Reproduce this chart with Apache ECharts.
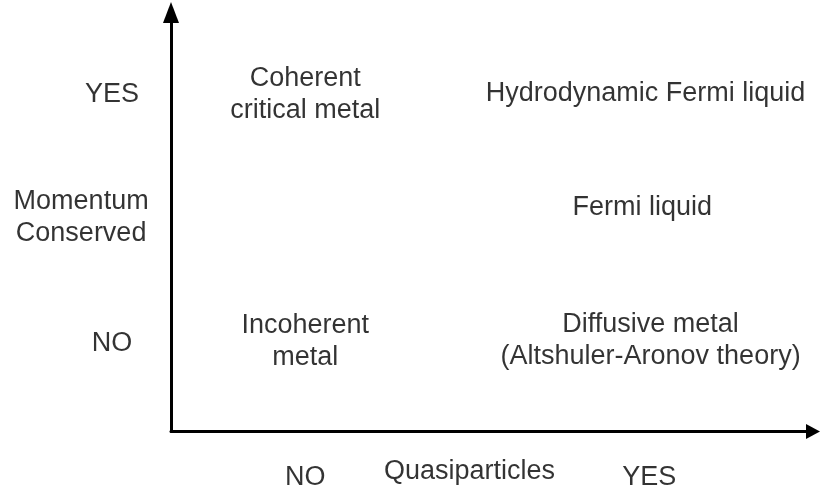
<!DOCTYPE html>
<html>
<head>
<meta charset="utf-8">
<style>
  html, body { margin: 0; padding: 0; background: #fff; }
  #chart { width: 820px; height: 490px; }
</style>
<script src="https://cdn.jsdelivr.net/npm/echarts@6/dist/echarts.min.js"></script>
</head>
<body>
<div id="chart"></div>
<script>
// Regime names (quadrant labels) and where they sit in the (quasiparticles, momentum) plane, 0..100
const regimeNames = ['Coherent\ncritical metal', 'Hydrodynamic Fermi liquid', 'Fermi liquid', 'Incoherent\nmetal', 'Diffusive metal\n(Altshuler-Aronov theory)'];
const regimeX = [20.9, 73.9, 73.4, 20.9, 74.7];
const regimeY = [80.5, 80.6, 53.5, 21.4, 21.8];

// Axis level labels
const xTickLabels = ['NO', 'YES'];
const xTickValues = [20.9, 74.5];
const yTickLabels = ['NO', 'YES'];
const yTickValues = [21.0, 80.4];

// Axis titles
const xTitle = 'Quasiparticles';
const yTitle = 'Momentum\nConserved';

const FONT = "'Liberation Sans', Arial, sans-serif";
const textStyle = { color: '#000', fontFamily: FONT, fontSize: 27, lineHeight: 32 };

function labelSeries(name, points) {
  return {
    name: name,
    type: 'scatter',
    clip: false,
    symbolSize: 1,
    itemStyle: { color: 'rgba(0,0,0,0)' },
    silent: true,
    label: Object.assign({
      show: true,
      position: 'inside',
      align: 'center',
      verticalAlign: 'middle',
      formatter: function (p) { return p.data.text; }
    }, textStyle),
    data: points
  };
}

const regimePts = regimeNames.map((t, i) => ({ value: [regimeX[i], regimeY[i]], text: t }));
const xTickPts = xTickLabels.map((t, i) => ({ value: [xTickValues[i], -11.0], text: t }));
const yTickPts = yTickLabels.map((t, i) => ({ value: [-9.2, yTickValues[i]], text: t }));
const titlePts = [
  { value: [46.5, -9.6], text: xTitle },
  { value: [-14.0, 51.0], text: yTitle }
];

const chart = echarts.init(document.getElementById('chart'), null, { renderer: 'canvas' });
chart.setOption({
  backgroundColor: '#fff',
  animation: false,
  grid: { left: 171, right: 7, top: 12.5, bottom: 58.5, containLabel: false, outerBoundsMode: 'none' },
  xAxis: {
    type: 'value', min: 0, max: 100,
    axisLine: { show: true, onZero: false, symbol: ['none', 'triangle'], symbolSize: [15, 14],
      lineStyle: { color: '#000', width: 3 } },
    axisTick: { show: false }, axisLabel: { show: false }, splitLine: { show: false }
  },
  yAxis: {
    type: 'value', min: 0, max: 100,
    axisLine: { show: true, onZero: false, symbol: ['none', 'triangle'], symbolSize: [16, 21],
      lineStyle: { color: '#000', width: 3 } },
    axisTick: { show: false }, axisLabel: { show: false }, splitLine: { show: false }
  },
  series: [
    labelSeries('regimes', regimePts),
    labelSeries('xTicks', xTickPts),
    labelSeries('yTicks', yTickPts),
    labelSeries('titles', titlePts)
  ]
});
</script>
</body>
</html>
